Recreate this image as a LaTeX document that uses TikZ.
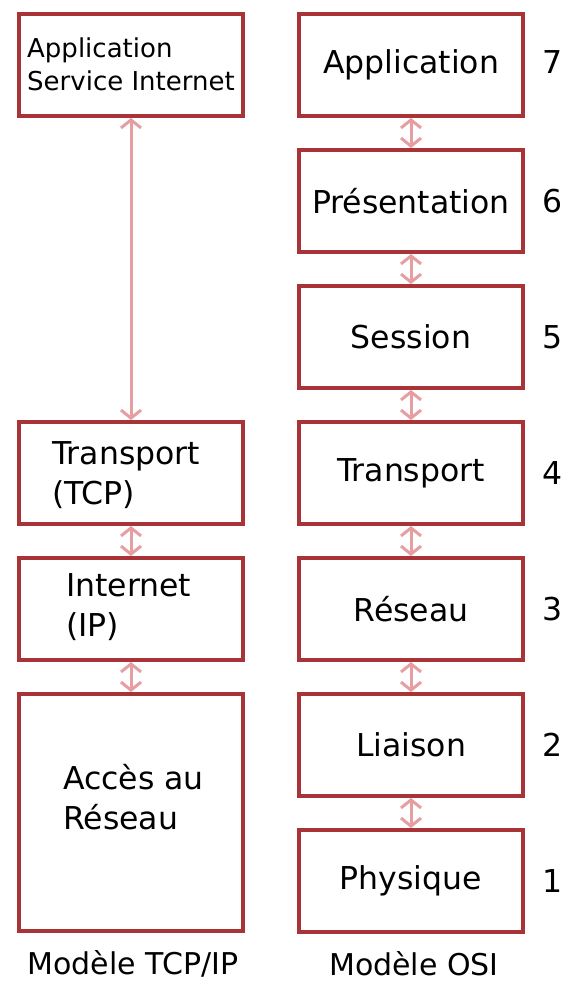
\documentclass[tikz,border=0pt]{standalone}
\usepackage{fontspec}
\setmainfont{DejaVu Sans}
\usetikzlibrary{arrows.meta}
\definecolor{boxred}{RGB}{168,52,56}
\definecolor{linkpink}{RGB}{230,158,160}
\begin{document}
\begin{tikzpicture}[x=1pt,y=-1pt,
  layer/.style={draw=boxred, line width=4pt, fill=white,
    minimum width=224pt, minimum height=102pt, inner sep=0pt},
  txt/.style={font=\fontsize{31.5}{40}\selectfont, align=left, inner sep=0pt},
  smalltxt/.style={font=\fontsize{26}{33}\selectfont, align=left, inner sep=0pt},
  captxt/.style={font=\fontsize{30}{36}\selectfont, inner sep=0pt},
  link/.style={draw=linkpink, line width=3pt,
    {Straight Barb[length=8pt,width=20pt]}-{Straight Barb[length=8pt,width=20pt]}},
  num/.style={font=\fontsize{31.5}{35}\selectfont, inner sep=0pt}]
\useasboundingbox[fill=white] (0,0) rectangle (570,985);

% TCP/IP model (left column)
\node[layer] (tapp) at (131,65) {};
\node[smalltxt, anchor=west] (tappt) at (27,64) {Application\\Service Internet};
\node[layer] (ttrans) at (131,473) {};
\node[txt, anchor=west] (ttranst) at (52,475) {Transport\\(TCP)};
\node[layer] (tnet) at (131,609) {};
\node[txt, anchor=west] (tnett) at (66,607) {Internet\\(IP)};
\node[layer, minimum height=237pt] (tacc) at (131,812.5) {};
\node[txt, anchor=west] (tacct) at (63,797) {Accès au\\Réseau};
\node[captxt] (tcap) at (133,964) {Modèle TCP/IP};

\draw[link] (tapp.south) -- (ttrans.north);
\draw[link] (ttrans.south) -- (tnet.north);
\draw[link] (tnet.south) -- (tacc.north);

% OSI model (right column)
\node[layer, txt] (o7) at (411,65)  {Application};
\node[layer, txt] (o6) at (411,201) {Présentation};
\node[layer, txt] (o5) at (411,337) {Session};
\node[layer, txt] (o4) at (411,473) {Transport};
\node[layer, txt] (o3) at (411,609) {Réseau};
\node[layer, txt] (o2) at (411,745) {Liaison};
\node[layer, txt] (o1) at (411,881) {Physique};
\node[captxt] (ocap) at (414,964) {Modèle OSI};

\foreach \a/\b in {7/6,6/5,5/4,4/3,3/2,2/1}
  \draw[link] (o\a.south) -- (o\b.north);

% layer numbers
\foreach \n/\y in {7/62,6/201,5/337,4/473,3/609,2/745,1/881}
  \node[num] (n\n) at (553,\y) {\n};
\end{tikzpicture}
\end{document}
